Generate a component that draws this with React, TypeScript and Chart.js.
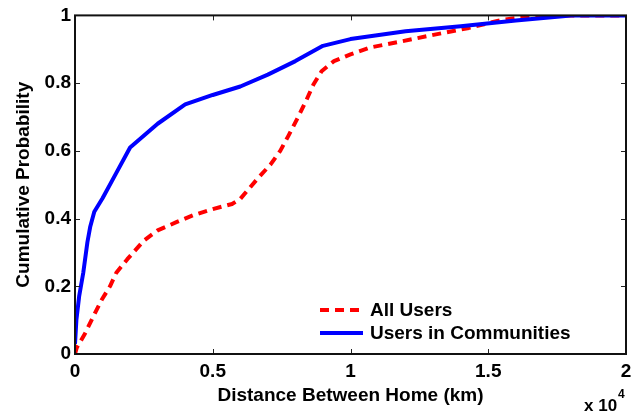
import React, { useEffect, useRef } from "react";
import { Chart, registerables } from "chart.js";

Chart.register(...registerables);

// Distance in units of 10^4 km
const allUsersX = [0, 0.006, 0.036, 0.066, 0.097, 0.127, 0.15, 0.19, 0.25, 0.3, 0.37, 0.43, 0.5, 0.57, 0.6, 0.625, 0.665, 0.71, 0.745, 0.775, 0.81, 0.84, 0.865, 0.895, 0.94, 1.0, 1.07, 1.19, 1.31, 1.43, 1.55, 1.68, 2.0];
const allUsersY = [0, 0.018, 0.06, 0.11, 0.16, 0.2, 0.24, 0.28, 0.335, 0.365, 0.39, 0.41, 0.428, 0.443, 0.458, 0.482, 0.52, 0.56, 0.6, 0.645, 0.7, 0.75, 0.795, 0.835, 0.865, 0.885, 0.905, 0.924, 0.944, 0.963, 0.987, 1.0, 1.0];

const communityX = [0, 0.005, 0.015, 0.03, 0.045, 0.055, 0.07, 0.1, 0.15, 0.2, 0.3, 0.4, 0.5, 0.6, 0.7, 0.8, 0.9, 1.0, 1.2, 1.4, 1.6, 1.8, 2.0];
const communityY = [0.03, 0.1, 0.17, 0.24, 0.33, 0.375, 0.42, 0.46, 0.535, 0.61, 0.68, 0.737, 0.765, 0.79, 0.825, 0.865, 0.91, 0.93, 0.953, 0.968, 0.985, 1.0, 1.0];

const seriesLabels = ["All Users", "Users in Communities"];
const xTicks = [0, 0.5, 1, 1.5, 2];
const yTicks = [0, 0.2, 0.4, 0.6, 0.8, 1];
const xTitle = "Distance Between Home (km)";
const yTitle = "Cumulative Probability";
const xMultiplier = "x 10";
const xExponent = "4";

const FONT = "Liberation Sans";

const framePlugin = {
  id: "frame",
  afterDraw(chart: any) {
    const { ctx, chartArea } = chart;
    const xs = chart.scales.x;
    const ys = chart.scales.y;
    const { left, right, top, bottom } = chartArea;
    ctx.save();
    // inner ticks
    ctx.strokeStyle = "#222";
    ctx.lineWidth = 1;
    const tl = 5;
    xTicks.forEach((v) => {
      const px = Math.round(xs.getPixelForValue(v)) + 0.5;
      ctx.beginPath();
      ctx.moveTo(px, bottom);
      ctx.lineTo(px, bottom - tl);
      ctx.moveTo(px, top);
      ctx.lineTo(px, top + tl);
      ctx.stroke();
    });
    yTicks.forEach((v) => {
      const py = Math.round(ys.getPixelForValue(v)) + 0.5;
      ctx.beginPath();
      ctx.moveTo(left, py);
      ctx.lineTo(left + tl, py);
      ctx.moveTo(right, py);
      ctx.lineTo(right - tl, py);
      ctx.stroke();
    });
    // box
    ctx.strokeStyle = "#111";
    ctx.lineWidth = 2;
    ctx.strokeRect(left, top, right - left, bottom - top);

    // legend
    const ds = chart.data.datasets;
    const lx0 = 320;
    const lx1 = 363;
    const rows = [310, 333];
    ctx.font = `bold 19px "${FONT}"`;
    ctx.textBaseline = "middle";
    ctx.textAlign = "left";
    ds.forEach((d: any, i: number) => {
      const y = rows[i];
      ctx.beginPath();
      ctx.strokeStyle = d.borderColor;
      ctx.lineWidth = 4;
      ctx.setLineDash(d.borderDash || []);
      ctx.moveTo(lx0, y);
      ctx.lineTo(lx1, y);
      ctx.stroke();
      ctx.setLineDash([]);
      ctx.fillStyle = "#000";
      ctx.fillText(d.label, 370, y + 1);
    });

    // x 10^4 multiplier
    ctx.textBaseline = "alphabetic";
    ctx.font = `bold 17px "${FONT}"`;
    ctx.fillText(xMultiplier, 584, 411);
    const w = ctx.measureText(xMultiplier).width;
    ctx.font = `bold 12px "${FONT}"`;
    ctx.fillText(xExponent, 584 + w + 1, 398);
    ctx.restore();
  },
};

export default function App() {
  const ref = useRef<HTMLCanvasElement | null>(null);
  useEffect(() => {
    document.body.style.margin = "0";
    const canvas = ref.current;
    if (!canvas) return;
    Chart.defaults.font.family = FONT;
    Chart.defaults.color = "#000";
    const chart = new Chart(canvas, {
      type: "line",
      data: {
        datasets: [
          {
            label: seriesLabels[0],
            data: allUsersX.map((x, i) => ({ x, y: allUsersY[i] })),
            borderColor: "#ff0000",
            borderWidth: 4,
            borderDash: [9, 6],
            borderJoinStyle: "round",
            pointRadius: 0,
            tension: 0,
            fill: false,
            order: 1,
          },
          {
            label: seriesLabels[1],
            data: communityX.map((x, i) => ({ x, y: communityY[i] })),
            borderColor: "#0000ff",
            borderWidth: 4,
            borderJoinStyle: "round",
            pointRadius: 0,
            tension: 0,
            fill: false,
            order: 0,
          },
        ],
      },
      options: {
        responsive: false,
        animation: false,
        devicePixelRatio: 1,
        layout: { padding: { top: 14, right: 13, left: 0, bottom: 0 } },
        plugins: {
          legend: { display: false },
          tooltip: { enabled: false },
        },
        scales: {
          x: {
            type: "linear",
            min: 0,
            max: 2,
            grid: { display: false, drawTicks: false },
            border: { display: false },
            afterBuildTicks: (s: any) => {
              s.ticks = xTicks.map((v) => ({ value: v }));
            },
            afterFit: (s: any) => {
              s.height = 64;
            },
            ticks: {
              font: { size: 19, weight: "bold" },
              padding: 6,
              maxRotation: 0,
              callback: (v: any) => String(Number(v)),
            },
            title: {
              display: true,
              text: xTitle,
              font: { size: 19, weight: "bold" },
              padding: { top: 0, bottom: 11 },
            },
          },
          y: {
            type: "linear",
            min: 0,
            max: 1,
            grid: { display: false, drawTicks: false },
            border: { display: false },
            afterBuildTicks: (s: any) => {
              s.ticks = yTicks.map((v) => ({ value: v }));
            },
            afterFit: (s: any) => {
              s.width = 75;
            },
            ticks: {
              font: { size: 19, weight: "bold" },
              padding: 4,
              callback: (v: any) => String(Number(Number(v).toFixed(1))),
            },
            title: {
              display: true,
              text: yTitle,
              font: { size: 19, weight: "bold" },
              padding: { top: 12, bottom: 0 },
            },
          },
        },
      },
      plugins: [framePlugin],
    });
    return () => chart.destroy();
  }, []);
  return (
    <canvas
      ref={ref}
      width={639}
      height={418}
      style={{ display: "block", width: 639, height: 418 }}
    />
  );
}
